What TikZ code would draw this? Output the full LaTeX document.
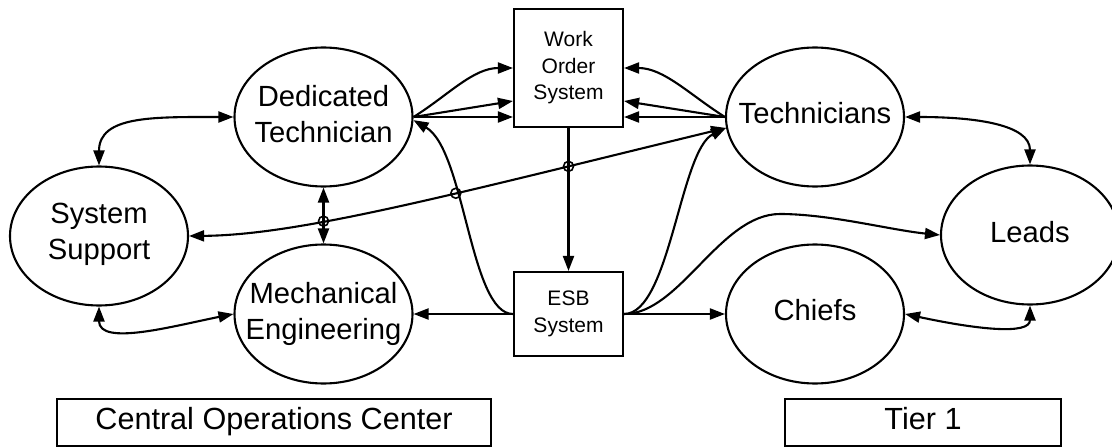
\documentclass[tikz,border=0pt]{standalone}
\usepackage{fontspec}
\setmainfont{Liberation Sans}
\usetikzlibrary{shapes.geometric,arrows.meta,intersections}
\begin{document}
\begin{tikzpicture}[x=1pt,y=-1pt,
  ell/.style={ellipse,draw,line width=2.1pt,minimum width=178pt,minimum height=139pt,inner sep=0pt},
  etext/.style={align=center,font=\fontsize{29.2}{36}\selectfont,inner sep=0pt},
  sbox/.style={draw,line width=2.1pt,inner sep=0pt,align=center,font=\fontsize{21}{26.5}\selectfont},
  lbox/.style={draw,line width=2.1pt,inner sep=0pt,font=\fontsize{30.6}{36}\selectfont,text height=22pt,text depth=8pt},
  conn/.style={line width=2.1pt,>={Triangle[length=15pt,width=11pt]}},
  hop/.style={line width=1.6pt}]
\useasboundingbox (0,0) rectangle (1112,447);
% nodes
\node[ell,label={[etext,yshift=2.5pt]center:Dedicated\\Technician}] (dt) at (323.5,117) {};
\node[ell,label={[etext,yshift=1.5pt]center:System\\Support}] (sys) at (99,236) {};
\node[ell,label={[etext,yshift=0.5pt]center:Mechanical\\Engineering}] (me) at (323.5,314) {};
\node[ell,label={[etext,yshift=4pt]center:Technicians}] (tech) at (815,117) {};
\node[ell,label={[etext,yshift=3pt]center:Leads}] (leads) at (1030,235) {};
\node[ell,label={[etext,yshift=4pt]center:Chiefs}] (chiefs) at (815,314) {};
\node[sbox,minimum width=109pt,minimum height=118pt] (wos) at (568.5,68) {Work\\Order\\System};
\node[sbox,minimum width=109pt,minimum height=84pt] (esb) at (568.5,314) {ESB\\System};
\node[lbox,minimum width=434pt,minimum height=47pt] (coc) at (274,422.5) {Central Operations Center};
\node[lbox,minimum width=276pt,minimum height=47pt] (tier) at (923,422.5) {Tier 1};
% DT to WOS
\draw[conn,->] (dt.east) .. controls +(35,-22) and +(-40,0) .. (wos.west);
\draw[conn,->] (dt.east) -- ([yshift=-33pt]wos.west);
\draw[conn,->] (dt.east) -- ([yshift=-49pt]wos.west);
% Technicians to WOS
\draw[conn,->] (tech.west) .. controls +(-35,-22) and +(40,0) .. (wos.east);
\draw[conn,->] (tech.west) -- ([yshift=-33pt]wos.east);
\draw[conn,->] (tech.west) -- ([yshift=-49pt]wos.east);
% left cluster
\draw[conn,<->] (sys.north) .. controls +(0,-50) and +(-80,0) .. (dt.west);
\draw[conn,<->] (sys.south) .. controls +(0,40) and +(-60,12) .. (me.west);
\draw[conn,<->,name path=dtme] (dt.south) -- (me.north);
% right cluster
\draw[conn,<->] (tech.east) .. controls +(70,0) and +(0,-40) .. (leads.north);
\draw[conn,<->] (chiefs.east) .. controls +(70,15) and +(0,30) .. (leads.south);
% systems
\draw[conn,->,name path=wosesb] (wos.south) -- (esb.north);
\draw[conn,->] (esb.west) -- (me.east);
\draw[conn,->] (esb.east) -- (chiefs.west);
\draw[conn,->,name path=esbdt] (esb.west) .. controls (470,314) and (465,150) .. (dt.-2);
\draw[conn,->] (esb.east) .. controls (680,314) and (720,214) .. (780,214) .. controls (830,214) and (890,230) .. (leads.west);
\draw[conn,->] (esb.east) .. controls (670,314) and (680,150) .. (tech.187);
\draw[conn,<->,name path=systech] (sys.east) .. controls (300,235) and (450,195) .. (tech.187);
% line hops
\path[name intersections={of=systech and wosesb,by={h1}}];
\path[name intersections={of=systech and esbdt,by={h2}}];
\path[name intersections={of=systech and dtme,by={h3}}];
\draw[hop] (h1) circle[radius=5pt];
\draw[hop] (h2) circle[radius=5pt];
\draw[hop] (h3) circle[radius=5pt];
\end{tikzpicture}
\end{document}
